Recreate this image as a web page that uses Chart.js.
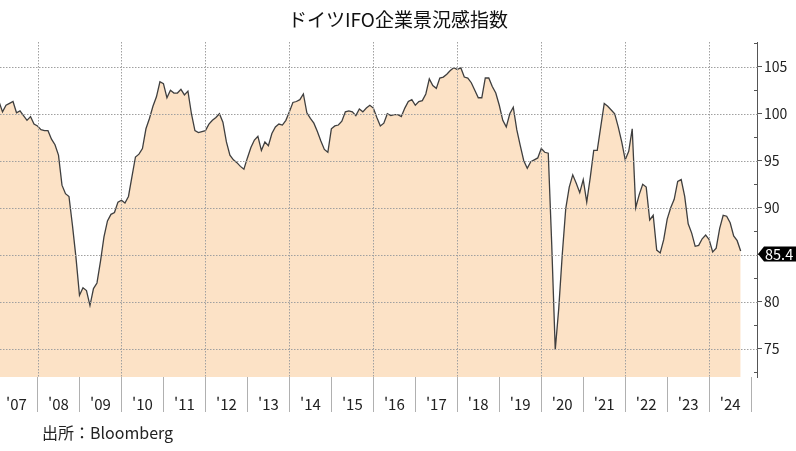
<!DOCTYPE html>
<html lang="ja">
<head>
<meta charset="utf-8">
<title>ドイツIFO企業景況感指数</title>
<script src="https://cdn.jsdelivr.net/npm/chart.js@4.4.1/dist/chart.umd.min.js"></script>
<style>
  html, body { margin: 0; padding: 0; background: #fff; }
  #wrap { width: 796px; height: 451px; }
</style>
</head>
<body>
<div id="wrap"><canvas id="ifoChart" width="796" height="451"></canvas></div>
<script>
/* ドイツIFO企業景況感指数 — monthly, Jan 2007 to Sep 2024 */

const TITLE = 'ドイツIFO企業景況感指数';
const SOURCE = '出所：Bloomberg';

const startYear = 2007;   // first value = January 2007, one value per month

const ifoIndex = [
  // 2007
  101.3, 100.2, 100.9, 101.1, 101.3, 100.1, 100.3, 99.8, 99.3, 99.7, 98.9, 98.7,
  // 2008
  98.3, 98.2, 98.2, 97.3, 96.7, 95.6, 92.4, 91.5, 91.2, 88.1, 84.7, 80.7,
  // 2009
  81.5, 81.2, 79.6, 81.4, 82.0, 84.3, 86.9, 88.6, 89.3, 89.5, 90.6, 90.8,
  // 2010
  90.5, 91.2, 93.3, 95.4, 95.7, 96.3, 98.4, 99.5, 100.8, 101.8, 103.4, 103.2,
  // 2011
  101.7, 102.5, 102.2, 102.2, 102.6, 102.0, 102.4, 100.0, 98.2, 98.0, 98.1, 98.2,
  // 2012
  98.9, 99.3, 99.6, 100.0, 99.1, 97.0, 95.6, 95.1, 94.8, 94.4, 94.1, 95.3,
  // 2013
  96.4, 97.2, 97.6, 96.1, 97.0, 96.6, 97.9, 98.6, 98.9, 98.8, 99.3, 100.2,
  // 2014
  101.2, 101.3, 101.5, 102.1, 100.1, 99.5, 99.0, 98.1, 97.1, 96.2, 95.9, 98.4,
  // 2015
  98.7, 98.8, 99.2, 100.2, 100.3, 100.2, 99.8, 100.5, 100.2, 100.6, 100.9, 100.6,
  // 2016
  99.6, 98.7, 99.0, 100.0, 99.8, 99.9, 99.9, 99.7, 100.6, 101.3, 101.5, 100.9,
  // 2017
  101.3, 101.4, 102.1, 103.7, 103.0, 102.7, 103.8, 103.9, 104.2, 104.6, 104.9, 104.7,
  // 2018
  104.9, 103.9, 103.8, 103.3, 102.5, 101.7, 101.7, 103.8, 103.8, 102.9, 102.2, 100.9,
  // 2019
  99.3, 98.6, 100.0, 100.7, 98.3, 96.6, 95.0, 94.2, 94.9, 95.1, 95.3, 96.3,
  // 2020
  95.9, 95.8, 86.0, 74.9, 79.3, 85.0, 89.9, 92.2, 93.5, 92.6, 91.6, 93.0,
  // 2021
  90.6, 93.2, 96.1, 96.1, 98.6, 101.1, 100.8, 100.4, 100.0, 98.6, 97.0, 95.1,
  // 2022
  96.0, 98.4, 90.0, 91.4, 92.5, 92.2, 88.7, 89.2, 85.5, 85.2, 86.6, 88.8,
  // 2023
  90.0, 90.9, 92.8, 93.0, 91.2, 88.3, 87.3, 85.9, 86.0, 86.7, 87.1, 86.6,
  // 2024
  85.3, 85.7, 87.8, 89.2, 89.1, 88.4, 87.0, 86.5, 85.4,
];

const yearLabels = ["'07", "'08", "'09", "'10", "'11", "'12", "'13", "'14", "'15",
                    "'16", "'17", "'18", "'19", "'20", "'21", "'22", "'23", "'24"];
const yTickValues = [75, 80, 85, 90, 95, 100, 105];
const yMinorTicks = [72.5, 77.5, 82.5, 87.5, 92.5, 97.5, 102.5, 107.5];

// each value is plotted at the end of its month, on a fractional-year axis
const points = ifoIndex.map((v, i) => ({ x: startYear + (i + 1) / 12, y: v }));
// year separators sit at the end of each labelled year
const yearBreaks = yearLabels.map((_, k) => startYear + 1 + k);

const GRID = '#a0a0a0';
const AXIS = '#555555';
const TEXT = '#222222';
const FILL = '#FCE2C6';

Chart.defaults.font.family = '"Noto Sans CJK JP", "Noto Sans", sans-serif';

// dotted grid on top of the filled area, positioned through the scales
const dottedGrid = {
  id: 'dottedGrid',
  afterDatasetsDraw(chart) {
    const { ctx, chartArea: a, scales: { x, y } } = chart;
    ctx.save();
    ctx.fillStyle = GRID;
    yTickValues.forEach((v) => {
      const py = Math.round(y.getPixelForValue(v));
      for (let px = Math.round(a.left); px < a.right; px += 3) ctx.fillRect(px, py, 1.5, 1);
    });
    yearBreaks.filter((v) => v % 2 === 0).forEach((v) => {
      const px = Math.round(x.getPixelForValue(v));
      for (let py = Math.round(a.top); py < a.bottom; py += 3) ctx.fillRect(px, py, 1, 1.5);
    });
    ctx.restore();
  },
};

const decorations = {
  id: 'decorations',
  afterDraw(chart) {
    const { ctx, scales: { y }, chartArea } = chart;
    ctx.save();

    ctx.fillStyle = '#111';
    ctx.font = '19px "Noto Sans CJK JP"';
    ctx.textAlign = 'center';
    ctx.textBaseline = 'middle';
    ctx.fillText(TITLE, 398, 20);

    ctx.font = '16px "Noto Sans CJK JP"';
    ctx.textAlign = 'left';
    ctx.fillStyle = TEXT;
    ctx.fillText(SOURCE, 42, 433);

    // small inner ticks between the labelled values
    ctx.fillStyle = AXIS;
    yMinorTicks.forEach((v) => {
      const py = Math.round(y.getPixelForValue(v));
      ctx.fillRect(chartArea.right - 3, py, 3, 1);
    });

    // last-value tag on the axis
    const last = ifoIndex[ifoIndex.length - 1];
    const yc = y.getPixelForValue(last) + 3;
    const x0 = chartArea.right + 1;
    ctx.fillStyle = '#000';
    ctx.beginPath();
    ctx.moveTo(x0, yc);
    ctx.lineTo(x0 + 6, yc - 7.5);
    ctx.lineTo(796, yc - 7.5);
    ctx.lineTo(796, yc + 7.5);
    ctx.lineTo(x0 + 6, yc + 7.5);
    ctx.closePath();
    ctx.fill();
    ctx.fillStyle = '#fff';
    ctx.font = '14.5px "Noto Sans CJK JP"';
    ctx.textBaseline = 'middle';
    ctx.fillText(last.toFixed(1), x0 + 7, yc + 0.5);

    ctx.restore();
  },
};

new Chart(document.getElementById('ifoChart'), {
  type: 'line',
  data: {
    datasets: [{
      data: points,
      borderColor: '#3f3f3f',
      borderWidth: 1.3,
      backgroundColor: FILL,
      fill: 'start',
      pointRadius: 0,
      tension: 0,
    }],
  },
  options: {
    responsive: false,
    animation: false,
    layout: { padding: { top: 42, left: 0, right: 0, bottom: 0 } },
    plugins: { legend: { display: false }, tooltip: { enabled: false }, title: { display: false } },
    scales: {
      x: {
        type: 'linear',
        position: 'bottom',
        min: 2008 - 37.5 / 41.98,
        max: 2008 + (757 - 37.5) / 41.98,
        afterBuildTicks: (s) => { s.ticks = yearBreaks.map((v) => ({ value: v })); },
        afterFit: (s) => { s.height = 74; },
        grid: {
          drawOnChartArea: false,
          tickLength: 35,
          tickColor: '#b0b0b0',
          tickWidth: 1,
        },
        border: { display: false },
        ticks: {
          autoSkip: false,
          maxRotation: 0,
          padding: -17,
          labelOffset: -21,
          color: TEXT,
          font: { size: 15 },
          callback: (value, index) => yearLabels[index],
        },
      },
      y: {
        position: 'right',
        min: 72,
        max: 107.63,
        afterBuildTicks: (s) => { s.ticks = yTickValues.map((v) => ({ value: v })); },
        afterFit: (s) => { s.width = 39; },
        grid: {
          drawOnChartArea: false,
          tickLength: 5,
          tickColor: AXIS,
        },
        border: { display: true, color: AXIS, width: 1 },
        ticks: {
          padding: 2,
          color: TEXT,
          font: { size: 14 },
          callback: (v) => (v === 85 ? '' : String(v)),
        },
      },
    },
  },
  plugins: [dottedGrid, decorations],
});
</script>
</body>
</html>
